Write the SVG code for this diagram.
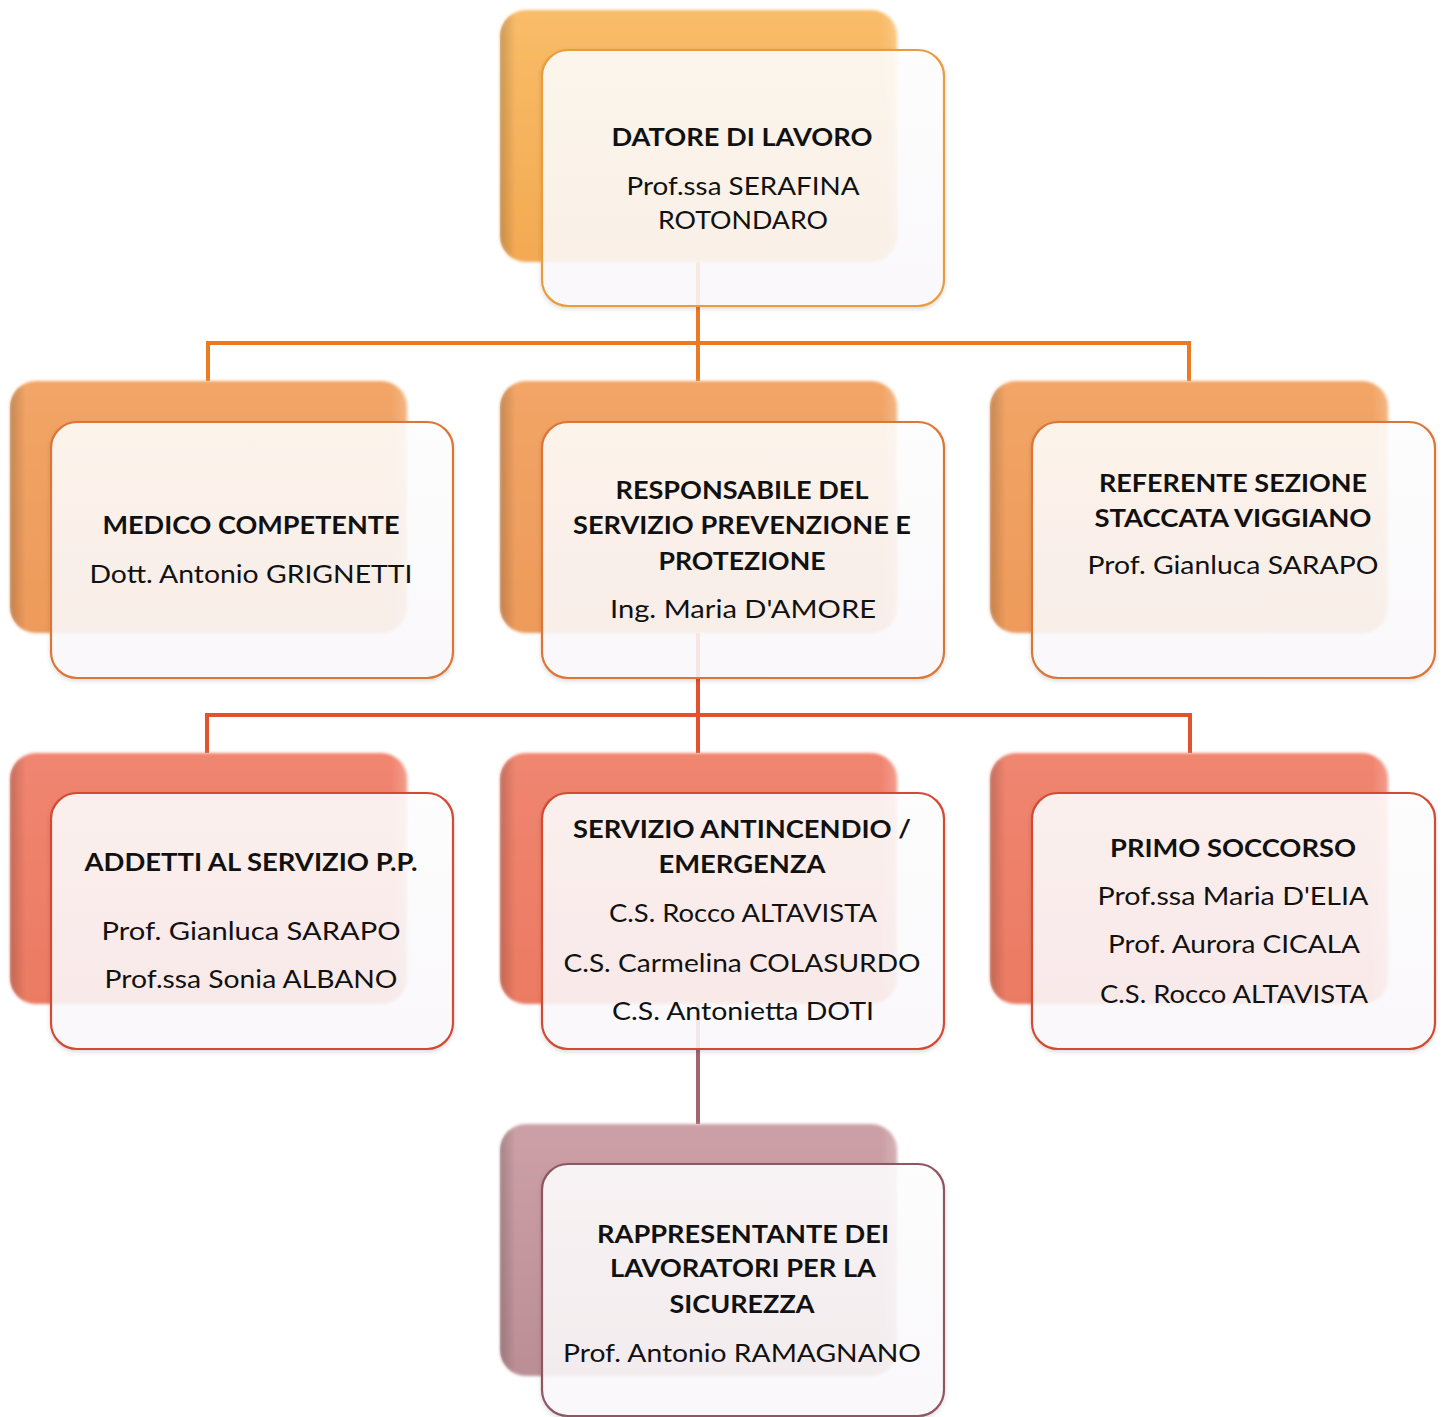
<svg xmlns="http://www.w3.org/2000/svg" width="1444" height="1417" viewBox="0 0 1444 1417">
<defs>
<linearGradient id="gA" x1="0" y1="0" x2="0" y2="1"><stop offset="0" stop-color="#F9BC68"/><stop offset="1" stop-color="#F3A952"/></linearGradient>
<linearGradient id="gB" x1="0" y1="0" x2="0" y2="1"><stop offset="0" stop-color="#F2A566"/><stop offset="1" stop-color="#ED9A5A"/></linearGradient>
<linearGradient id="gC" x1="0" y1="0" x2="0" y2="1"><stop offset="0" stop-color="#F08570"/><stop offset="1" stop-color="#EB7A62"/></linearGradient>
<linearGradient id="gD" x1="0" y1="0" x2="0" y2="1"><stop offset="0" stop-color="#CCA0A6"/><stop offset="1" stop-color="#BB8E95"/></linearGradient>
<linearGradient id="edge" x1="0" y1="0" x2="1" y2="0"><stop offset="0" stop-color="#000" stop-opacity="0.18"/><stop offset="0.04" stop-color="#000" stop-opacity="0"/><stop offset="0.96" stop-color="#fff" stop-opacity="0"/><stop offset="1" stop-color="#fff" stop-opacity="0.2"/></linearGradient>
<linearGradient id="front" x1="0" y1="0" x2="0" y2="1"><stop offset="0" stop-color="#FFFFFF"/><stop offset="1" stop-color="#FBF9FC"/></linearGradient>
<filter id="blur" x="-5%" y="-5%" width="110%" height="110%"><feGaussianBlur stdDeviation="1.5"/></filter>
<filter id="sh" x="-5%" y="-5%" width="110%" height="115%"><feDropShadow dx="0" dy="2" stdDeviation="2" flood-color="#000" flood-opacity="0.15"/></filter>
</defs>
<style>
.back{stroke:none}
.fr{fill:url(#front);fill-opacity:0.87;stroke-width:2.2}
.t{font-family:Lato,"Liberation Sans",sans-serif;font-size:25px;fill:#111;text-anchor:middle}
.b{font-weight:bold}
.c{fill:none;stroke-width:4}
</style>
<rect width="1444" height="1417" fill="#fff"/>
<g id="connectors">
<path class="c" stroke="#EC7A23" d="M698,262V343M208,381V343H1189V381M698,343V381"/>
<path class="c" stroke="#E2532D" d="M698,633V715M207,753V715H1190V753M698,715V753"/>
<path class="c" stroke="#A3646E" d="M698,1004V1124"/>
</g>
<g id="n-datore">
<rect class="back" x="500" y="10" width="397" height="252" rx="26" fill="url(#gA)" filter="url(#blur)"/>
<rect x="500" y="10" width="397" height="252" rx="26" fill="url(#edge)"/>
<rect class="fr" x="542" y="50" width="402" height="256" rx="26" stroke="#E89C3C" filter="url(#sh)"/>
<text class="t b" x="742" y="146" textLength="261" lengthAdjust="spacingAndGlyphs">DATORE  DI LAVORO</text>
<text class="t" x="743" y="195" textLength="233" lengthAdjust="spacingAndGlyphs">Prof.ssa SERAFINA</text>
<text class="t" x="743" y="229" textLength="170" lengthAdjust="spacingAndGlyphs">ROTONDARO</text>
</g>
<g id="n-medico">
<rect class="back" x="10" y="381" width="397" height="252" rx="26" fill="url(#gB)" filter="url(#blur)"/>
<rect x="10" y="381" width="397" height="252" rx="26" fill="url(#edge)"/>
<rect class="fr" x="51" y="422" width="402" height="256" rx="26" stroke="#DC7535" filter="url(#sh)"/>
<text class="t b" x="251" y="534" textLength="297" lengthAdjust="spacingAndGlyphs">MEDICO COMPETENTE</text>
<text class="t" x="251" y="583" textLength="323" lengthAdjust="spacingAndGlyphs">Dott. Antonio GRIGNETTI</text>
</g>
<g id="n-rspp">
<rect class="back" x="500" y="381" width="397" height="252" rx="26" fill="url(#gB)" filter="url(#blur)"/>
<rect x="500" y="381" width="397" height="252" rx="26" fill="url(#edge)"/>
<rect class="fr" x="542" y="422" width="402" height="256" rx="26" stroke="#DC7535" filter="url(#sh)"/>
<text class="t b" x="742" y="499" textLength="253" lengthAdjust="spacingAndGlyphs">RESPONSABILE DEL</text>
<text class="t b" x="742" y="534" textLength="338" lengthAdjust="spacingAndGlyphs">SERVIZIO PREVENZIONE  E</text>
<text class="t b" x="742" y="570" textLength="167" lengthAdjust="spacingAndGlyphs">PROTEZIONE</text>
<text class="t" x="743" y="618" textLength="266" lengthAdjust="spacingAndGlyphs">Ing. Maria D'AMORE</text>
</g>
<g id="n-referente">
<rect class="back" x="990" y="381" width="398" height="252" rx="26" fill="url(#gB)" filter="url(#blur)"/>
<rect x="990" y="381" width="398" height="252" rx="26" fill="url(#edge)"/>
<rect class="fr" x="1032" y="422" width="403" height="256" rx="26" stroke="#DC7535" filter="url(#sh)"/>
<text class="t b" x="1233" y="492" textLength="268" lengthAdjust="spacingAndGlyphs">REFERENTE  SEZIONE</text>
<text class="t b" x="1233" y="527" textLength="277" lengthAdjust="spacingAndGlyphs">STACCATA VIGGIANO</text>
<text class="t" x="1233" y="574" textLength="291" lengthAdjust="spacingAndGlyphs">Prof. Gianluca SARAPO</text>
</g>
<g id="n-addetti">
<rect class="back" x="10" y="753" width="397" height="251" rx="26" fill="url(#gC)" filter="url(#blur)"/>
<rect x="10" y="753" width="397" height="251" rx="26" fill="url(#edge)"/>
<rect class="fr" x="51" y="793" width="402" height="256" rx="26" stroke="#D44A32" filter="url(#sh)"/>
<text class="t b" x="251" y="871" textLength="333" lengthAdjust="spacingAndGlyphs">ADDETTI AL SERVIZIO P.P.</text>
<text class="t" x="251" y="940" textLength="299" lengthAdjust="spacingAndGlyphs">Prof.  Gianluca SARAPO</text>
<text class="t" x="251" y="988" textLength="293" lengthAdjust="spacingAndGlyphs">Prof.ssa Sonia ALBANO</text>
</g>
<g id="n-antincendio">
<rect class="back" x="500" y="753" width="397" height="251" rx="26" fill="url(#gC)" filter="url(#blur)"/>
<rect x="500" y="753" width="397" height="251" rx="26" fill="url(#edge)"/>
<rect class="fr" x="542" y="793" width="402" height="256" rx="26" stroke="#D44A32" filter="url(#sh)"/>
<text class="t b" x="742" y="838" textLength="338" lengthAdjust="spacingAndGlyphs">SERVIZIO ANTINCENDIO  /</text>
<text class="t b" x="742" y="873" textLength="167" lengthAdjust="spacingAndGlyphs">EMERGENZA</text>
<text class="t" x="743" y="922" textLength="268" lengthAdjust="spacingAndGlyphs">C.S. Rocco ALTAVISTA</text>
<text class="t" x="742" y="972" textLength="357" lengthAdjust="spacingAndGlyphs">C.S. Carmelina COLASURDO</text>
<text class="t" x="743" y="1020" textLength="262" lengthAdjust="spacingAndGlyphs">C.S. Antonietta  DOTI</text>
</g>
<g id="n-primo">
<rect class="back" x="990" y="753" width="398" height="251" rx="26" fill="url(#gC)" filter="url(#blur)"/>
<rect x="990" y="753" width="398" height="251" rx="26" fill="url(#edge)"/>
<rect class="fr" x="1032" y="793" width="403" height="256" rx="26" stroke="#D44A32" filter="url(#sh)"/>
<text class="t b" x="1233" y="857" textLength="246" lengthAdjust="spacingAndGlyphs">PRIMO SOCCORSO</text>
<text class="t" x="1233" y="905" textLength="271" lengthAdjust="spacingAndGlyphs">Prof.ssa Maria D'ELIA</text>
<text class="t" x="1234" y="953" textLength="252" lengthAdjust="spacingAndGlyphs">Prof. Aurora CICALA</text>
<text class="t" x="1234" y="1003" textLength="268" lengthAdjust="spacingAndGlyphs">C.S. Rocco ALTAVISTA</text>
</g>
<g id="n-rls">
<rect class="back" x="500" y="1124" width="397" height="252" rx="26" fill="url(#gD)" filter="url(#blur)"/>
<rect x="500" y="1124" width="397" height="252" rx="26" fill="url(#edge)"/>
<rect class="fr" x="542" y="1164" width="402" height="252" rx="26" stroke="#8E5663" filter="url(#sh)"/>
<text class="t b" x="743" y="1243" textLength="292" lengthAdjust="spacingAndGlyphs">RAPPRESENTANTE  DEI</text>
<text class="t b" x="743" y="1277" textLength="266" lengthAdjust="spacingAndGlyphs">LAVORATORI PER LA</text>
<text class="t b" x="742" y="1313" textLength="145" lengthAdjust="spacingAndGlyphs">SICUREZZA</text>
<text class="t" x="742" y="1362" textLength="358" lengthAdjust="spacingAndGlyphs">Prof. Antonio RAMAGNANO</text>
</g>
</svg>
